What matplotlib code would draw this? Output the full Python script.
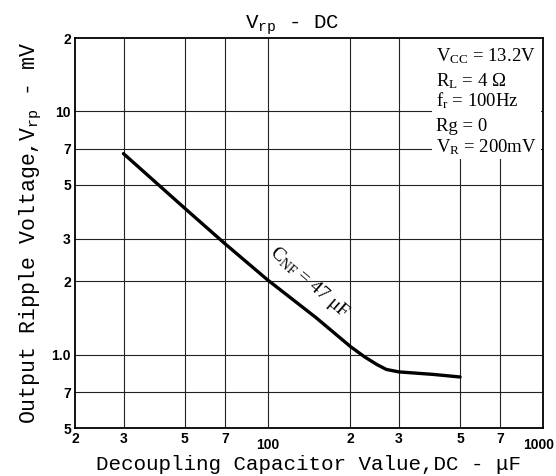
import matplotlib
matplotlib.use("Agg")
import matplotlib.pyplot as plt
import matplotlib.transforms as mtransforms
from matplotlib.patches import Rectangle

plt.rcParams['mathtext.fontset'] = 'custom'
plt.rcParams['mathtext.rm'] = 'Liberation Serif'
plt.rcParams['mathtext.tt'] = 'Liberation Mono'

# Data
cap_uF = [30, 50, 70, 100, 150, 200, 225, 250, 270, 300, 400, 500]
ripple_mV = [6.7, 4.0, 2.86, 2.03, 1.42, 1.08, 0.98, 0.91, 0.87, 0.85, 0.83, 0.81]

x_ticks = [20, 30, 50, 70, 100, 200, 300, 500, 700, 1000]
x_tick_labels = ["2", "3", "5", "7", "100", "2", "3", "5", "7", "1000"]
y_ticks = [0.5, 0.7, 1.0, 2, 3, 5, 7, 10, 20]
y_tick_labels = ["5", "7", "1.0", "2", "3", "5", "7", "10", "2"]

conditions = [r"V$\mathrm{_{CC}}$ = 13.2V", r"R$\mathrm{_{L}}$ = 4 Ω", r"f$\mathrm{_{r}}$ = 100Hz",
              "Rg = 0", r"V$\mathrm{_{R}}$ = 200mV"]

fig = plt.figure(figsize=(5.56, 4.76), dpi=100)
W, H = 556, 476
l, r, t, b = 75, 543, 38, 428
ax = fig.add_axes([l / W, 1 - b / H, (r - l) / W, (b - t) / H])
ax.set_xscale('log')
ax.set_yscale('log')
ax.set_xlim(20, 1000)
ax.set_ylim(0.5, 20)

for xv in x_ticks[1:-1]:
    ax.axvline(xv, color='#222222', lw=0.8, zorder=1)
for yv in y_ticks[1:-1]:
    ax.axhline(yv, color='#222222', lw=0.8, zorder=1)

ax.plot(cap_uF, ripple_mV, color='black', lw=2.4, zorder=3, solid_capstyle='round')

ax.set_xticks(x_ticks)
ax.set_xticklabels(x_tick_labels)
ax.set_yticks(y_ticks)
ax.set_yticklabels(y_tick_labels)
ax.minorticks_off()
ax.tick_params(length=0, pad=3)
for lab in ax.get_xticklabels() + ax.get_yticklabels():
    lab.set_fontfamily('Liberation Sans')
    lab.set_fontweight('bold')
    lab.set_fontsize(10)
for lab in ax.get_xticklabels():
    if lab.get_text() == "100":
        lab.set_transform(lab.get_transform() + mtransforms.ScaledTranslation(0, -4 / 72, fig.dpi_scale_trans))
    if lab.get_text() == "1000":
        lab.set_transform(lab.get_transform() + mtransforms.ScaledTranslation(-4 / 100, -4 / 72, fig.dpi_scale_trans))
for s in ax.spines.values():
    s.set_linewidth(1.3)
    s.set_zorder(5)

ax.set_xlabel("Decoupling Capacitor Value,DC - μF", fontfamily='Liberation Mono', fontsize=15, labelpad=2)
ax.set_ylabel(r"Output Ripple Voltage,V$\mathtt{_{rp}}$ - mV", fontfamily='Liberation Mono', fontsize=15.5, labelpad=5)
ax.set_title(r"V$\mathtt{_{rp}}$ - DC", fontfamily='Liberation Mono', fontsize=15, pad=7, x=0.465)

ax.add_patch(Rectangle((0.763, 0.69), 0.232, 0.31, transform=ax.transAxes,
                       facecolor='white', edgecolor='none', zorder=2))
ybase = [0.941, 0.876, 0.826, 0.762, 0.708]
for txt, yb in zip(conditions, ybase):
    ax.text(0.771, yb, txt, transform=ax.transAxes, fontfamily='Liberation Serif',
            fontsize=13.5, va='baseline', ha='left', zorder=4)

ax.text(142, 1.98, r"C$\mathrm{_{NF}}$ = 47 μF", fontfamily='Liberation Serif', fontsize=14,
        rotation=-41, rotation_mode='anchor', ha='center', va='center', zorder=4)

fig.savefig("out.png", dpi=100)
